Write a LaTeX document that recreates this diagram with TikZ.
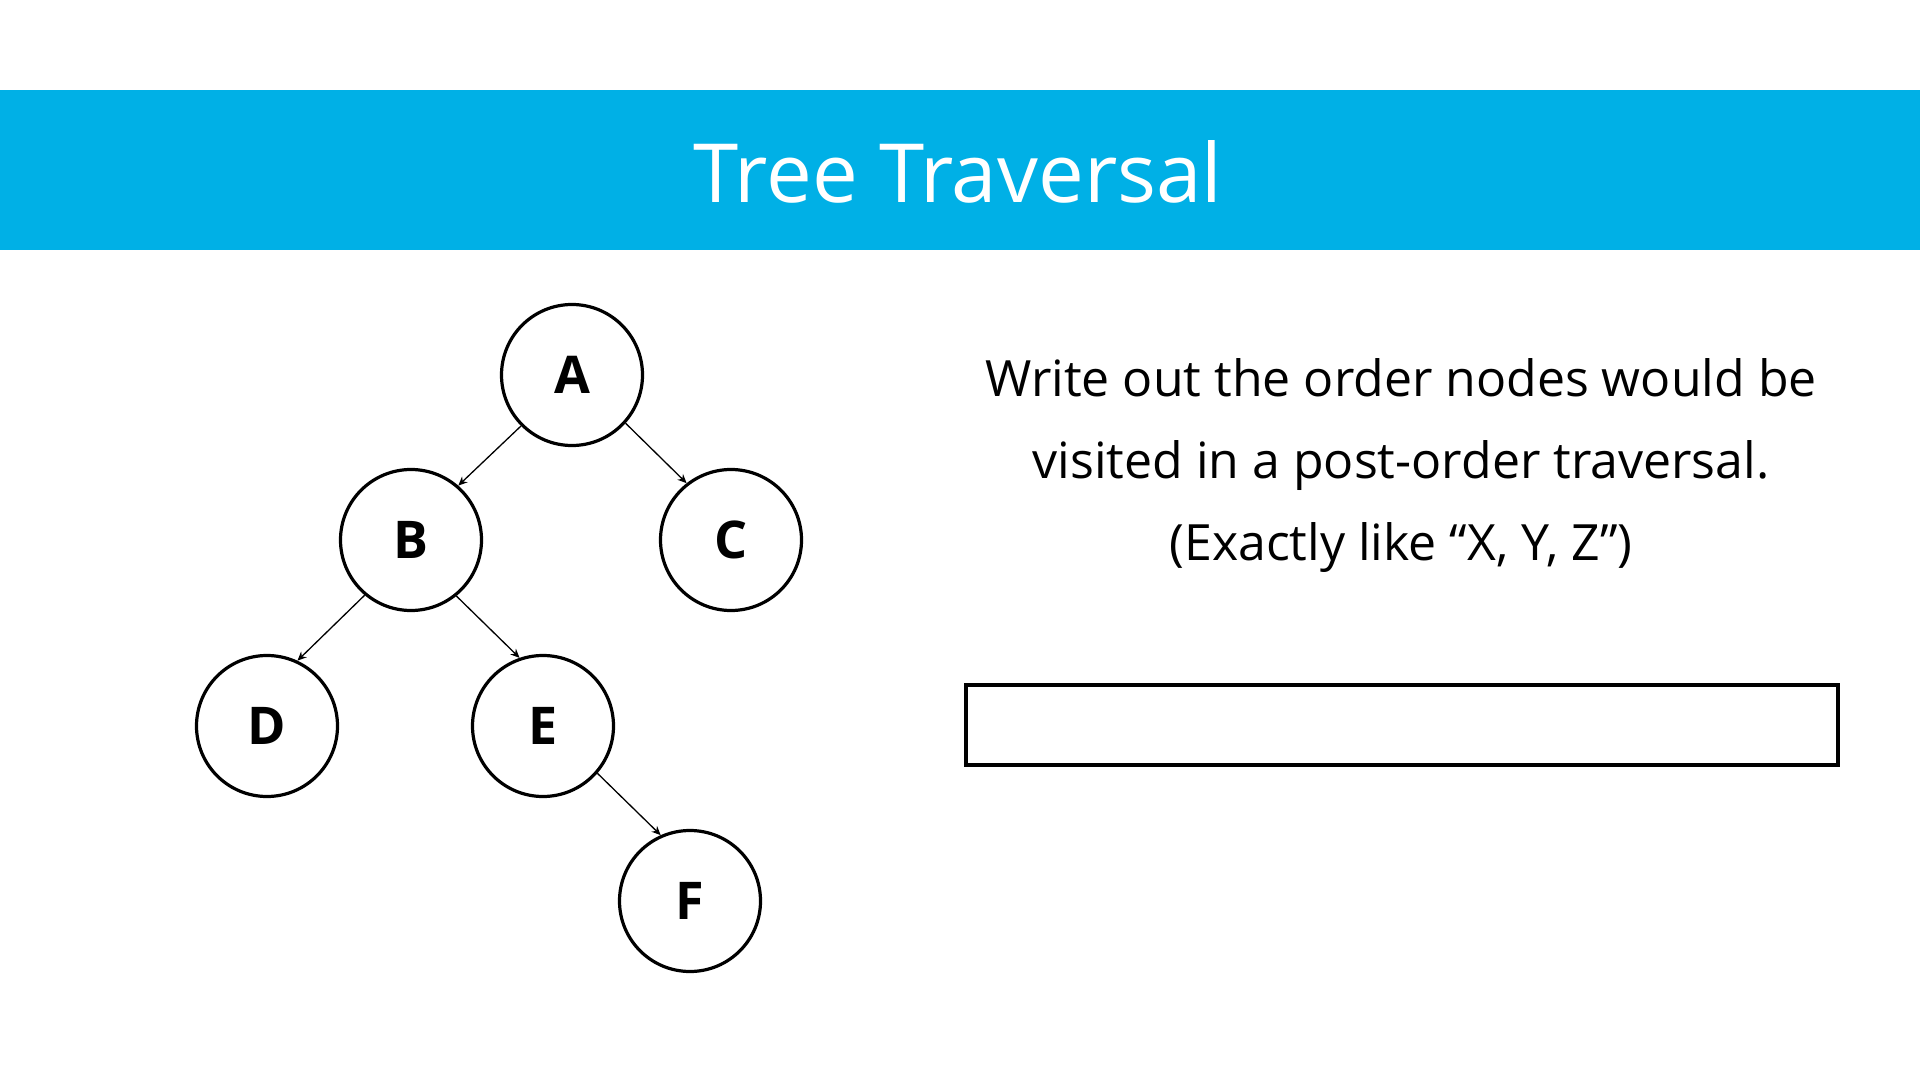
\documentclass[tikz,border=0pt]{standalone}
\usepackage{fontspec}
\setmainfont{Open Sans}
\usetikzlibrary{arrows.meta}
\definecolor{bandblue}{RGB}{0,176,230}
\tikzset{
  treenode/.style={draw, circle, line width=1.6pt, minimum size=70.5pt, inner sep=0pt,
    font=\fontsize{26}{30}\selectfont\bfseries},
  edge/.style={line width=0.65pt, -{Stealth[length=4.5pt,width=4pt]}}
}
\begin{document}
\begin{tikzpicture}[x=0.5pt, y=0.5pt]
        \useasboundingbox (0,0) rectangle (1920,-1080);
        \fill[bandblue] (0,-90) rectangle (1920,-250.5);
        \draw (958,-203) node[anchor=base, text=white, font=\fontsize{40.8}{48}\selectfont] (title) {Tree Traversal};

        \draw (572,-375) node[treenode] (A) {A};
        \draw (411,-540) node[treenode] (B) {B};
        \draw (731,-540) node[treenode] (C) {C};
        \draw (267,-726) node[treenode] (D) {D};
        \draw (543,-726) node[treenode] (E) {E};
        \draw (690,-901) node[treenode] (F) {F};

        \draw[edge] (A.225) -- (B.49);
        \draw[edge] (A.-42) -- (C.128);
        \draw[edge] (B.-130) -- (D.65);
        \draw[edge] (B.-51) -- (E.109);
        \draw[edge] (E.-41) -- (F.114);

        \draw (1401,-560) node[anchor=base, align=center, font=\fontsize{25}{41}\selectfont] (question)
          {Write out the order nodes would be\\visited in a post-order traversal.\\(Exactly like “X, Y, Z”)};
        \draw (1401.75,-725) node[draw, line width=2pt, minimum width=436.25pt, minimum height=40pt, inner sep=0pt] (answer) {};
    \end{tikzpicture}
\end{document}
